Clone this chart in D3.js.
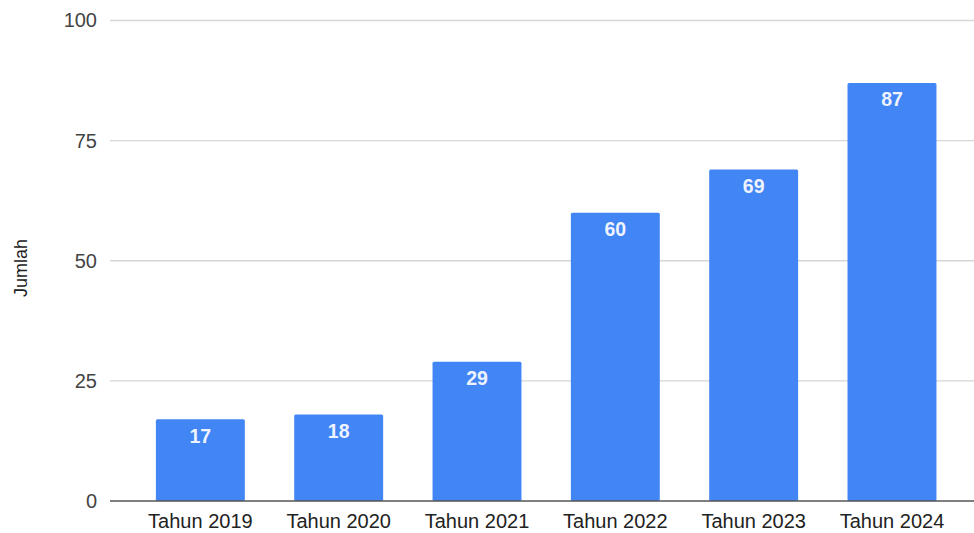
<!DOCTYPE html>
<html>
<head>
<meta charset="utf-8">
<script src="https://cdn.jsdelivr.net/npm/d3@7"></script>
<style>
  html, body { margin: 0; padding: 0; background: #fff; }
  svg { display: block; font-family: "Liberation Sans", Arial, sans-serif; }
</style>
</head>
<body>
<svg id="chart" width="974" height="533"></svg>
<script>
// Jumlah per tahun
const categories = ["Tahun 2019", "Tahun 2020", "Tahun 2021", "Tahun 2022", "Tahun 2023", "Tahun 2024"];
const values = [17, 18, 29, 60, 69, 87];
const yTicks = [0, 25, 50, 75, 100];
const yTitle = "Jumlah";

const width = 974, height = 533;
const plot = { left: 110, right: 974, top: 20.5, bottom: 501 };

const svg = d3.select("#chart");

const x = d3.scaleBand()
  .domain(categories)
  .range([plot.left, plot.right])
  .paddingInner(0.357)
  .paddingOuter(0.3015)
  .align(0.55);

const y = d3.scaleLinear()
  .domain([0, 100])
  .range([plot.bottom, plot.top]);

// horizontal gridlines
svg.append("g")
  .selectAll("line")
  .data(yTicks.filter(d => d !== 0))
  .join("line")
  .attr("x1", plot.left)
  .attr("x2", plot.right)
  .attr("y1", d => y(d))
  .attr("y2", d => y(d))
  .attr("stroke", "#d6d6d6")
  .attr("stroke-width", 1.3);

// y axis labels
const yAxis = d3.axisLeft(y).tickValues(yTicks).tickSize(0).tickPadding(0);
const gy = svg.append("g")
  .attr("transform", `translate(${plot.left - 13},0)`)
  .call(yAxis);
gy.select(".domain").remove();
gy.selectAll("text")
  .attr("font-size", 20)
  .attr("fill", "#444")
  .attr("font-family", "'Liberation Sans', Arial, sans-serif");

// bars
svg.append("g")
  .selectAll("rect")
  .data(values)
  .join("rect")
  .attr("x", (d, i) => x(categories[i]))
  .attr("width", x.bandwidth())
  .attr("y", d => y(d))
  .attr("height", d => y(0) - y(d))
  .attr("rx", 1.5)
  .attr("fill", "#4285f4");

// value labels inside bars
svg.append("g")
  .selectAll("text")
  .data(values)
  .join("text")
  .attr("x", (d, i) => x(categories[i]) + x.bandwidth() / 2)
  .attr("y", d => y(d) + 23.5)
  .attr("text-anchor", "middle")
  .attr("font-size", 19.5)
  .attr("font-weight", "bold")
  .attr("fill", "#eef3ff")
  .text(d => d);

// baseline
svg.append("line")
  .attr("x1", plot.left)
  .attr("x2", plot.right)
  .attr("y1", y(0))
  .attr("y2", y(0))
  .attr("stroke", "#555")
  .attr("stroke-width", 1.5);

// x axis labels
const xAxis = d3.axisBottom(x).tickSize(0).tickPadding(0);
const gx = svg.append("g")
  .attr("transform", `translate(0,${plot.bottom})`)
  .call(xAxis);
gx.select(".domain").remove();
gx.selectAll("text")
  .attr("dy", null)
  .attr("y", 26.5)
  .attr("font-size", 20)
  .attr("fill", "#222")
  .attr("font-family", "'Liberation Sans', Arial, sans-serif");

// y axis title
svg.append("text")
  .attr("transform", `translate(27,268) rotate(-90)`)
  .attr("text-anchor", "middle")
  .attr("font-size", 18)
  .attr("fill", "#222")
  .text(yTitle);
</script>
</body>
</html>
